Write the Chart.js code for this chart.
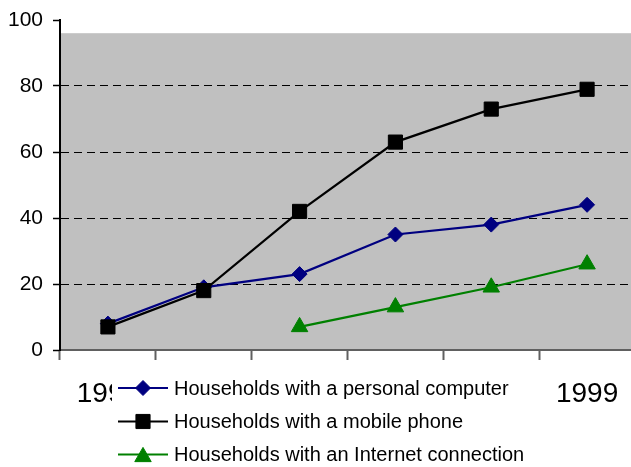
<!DOCTYPE html>
<html>
<head>
<meta charset="utf-8">
<script src="https://cdn.jsdelivr.net/npm/chart.js@4/dist/chart.umd.min.js"></script>
<style>
  html, body { margin: 0; padding: 0; background: #fff; overflow: hidden; }
  #wrap { width: 640px; height: 467px; }
</style>
</head>
<body>
<div id="wrap"><canvas id="c" width="640" height="467"></canvas></div>
<script>
// ---- data ----
const years = ["1994", "1995", "1996", "1997", "1998", "1999"];
const pcValues = [8, 19, 23, 35, 38, 44];
const mobileValues = [7, 18, 42, 63, 73, 79];
const internetValues = [null, null, 7, 13, 19, 26];
const seriesNames = [
  "Households with a personal computer",
  "Households with a mobile phone",
  "Households with an Internet connection"
];
const yTicks = [0, 20, 40, 60, 80, 100];

const FONT = "'Liberation Sans', Arial, sans-serif";
const plotTopValue = 96; // top of grey plot background

const bgPlugin = {
  id: 'plotBg',
  beforeDraw(chart) {
    const {ctx, chartArea} = chart;
    const y = chart.scales.y;
    const top = y.getPixelForValue(plotTopValue);
    ctx.save();
    ctx.fillStyle = '#c0c0c0';
    ctx.fillRect(chartArea.left, top, chartArea.right - chartArea.left + 20, chartArea.bottom - top);
    ctx.restore();
  }
};

function drawMarker(ctx, style, x, y, r, color) {
  ctx.save();
  ctx.fillStyle = color;
  ctx.strokeStyle = color;
  ctx.lineWidth = 1;
  ctx.beginPath();
  if (style === 'rectRot') {
    ctx.moveTo(x, y - r); ctx.lineTo(x + r, y); ctx.lineTo(x, y + r); ctx.lineTo(x - r, y);
  } else if (style === 'rect') {
    const s = r * Math.SQRT1_2;
    ctx.rect(x - s, y - s, 2 * s, 2 * s);
  } else {
    const half = r * Math.sqrt(3) / 2;
    const cy = y + r / 4;
    ctx.moveTo(x, cy - r); ctx.lineTo(x + half, cy + r / 2); ctx.lineTo(x - half, cy + r / 2);
  }
  ctx.closePath();
  ctx.fill();
  ctx.stroke();
  ctx.restore();
}

const legendPlugin = {
  id: 'overlayLegend',
  afterDraw(chart) {
    const {ctx} = chart;
    const boxLeft = 112, boxTop = 370, boxRight = 532, boxBottom = 467;
    ctx.save();
    ctx.fillStyle = '#fff';
    ctx.fillRect(boxLeft, boxTop, boxRight - boxLeft, boxBottom - boxTop);
    const rowY = [388, 421.5, 454.5];
    chart.data.datasets.forEach((ds, i) => {
      const y = rowY[i];
      ctx.strokeStyle = ds.borderColor;
      ctx.lineWidth = 2.2;
      ctx.beginPath();
      ctx.moveTo(118, y); ctx.lineTo(168, y);
      ctx.stroke();
      drawMarker(ctx, ds.pointStyle, 143, y, ds.pointRadius, ds.borderColor);
      ctx.fillStyle = '#000';
      ctx.font = '20px ' + FONT;
      ctx.textBaseline = 'middle';
      ctx.textAlign = 'left';
      ctx.fillText(ds.label, 174, y + 1);
    });
    ctx.restore();
  }
};

new Chart(document.getElementById('c'), {
  type: 'line',
  data: {
    labels: years,
    datasets: [
      {
        label: seriesNames[0], data: pcValues,
        borderColor: '#000080', backgroundColor: '#000080',
        borderWidth: 2.2, pointStyle: 'rectRot', pointRadius: 7.5, pointBorderWidth: 1,
        order: 2, tension: 0
      },
      {
        label: seriesNames[1], data: mobileValues,
        borderColor: '#000000', backgroundColor: '#000000',
        borderWidth: 2.2, pointStyle: 'rect', pointRadius: 10, pointBorderWidth: 1,
        order: 1, tension: 0
      },
      {
        label: seriesNames[2], data: internetValues,
        borderColor: '#008000', backgroundColor: '#008000',
        borderWidth: 2.2, pointStyle: 'triangle', pointRadius: 9.5, pointBorderWidth: 1,
        order: 0, tension: 0, spanGaps: false
      }
    ]
  },
  options: {
    responsive: false,
    animation: false,
    layout: { autoPadding: false, padding: { left: 0, right: 5, top: 20, bottom: 0 } },
    plugins: {
      legend: { display: false },
      tooltip: { enabled: false },
      title: { display: false }
    },
    scales: {
      x: {
        offset: true,
        grid: {
          offset: true, drawOnChartArea: false, drawTicks: true,
          tickLength: 10, tickColor: '#606060', tickWidth: 2
        },
        border: { display: true, color: '#606060', width: 2 },
        ticks: {
          color: '#000', font: { size: 28, family: FONT }, padding: 17,
          maxRotation: 0, autoSkip: false
        },
        afterFit(scale) { scale.height = 117; scale.paddingLeft = 0; scale.paddingRight = 0; }
      },
      y: {
        min: 0, max: 100,
        afterBuildTicks(scale) { scale.ticks = yTicks.map(v => ({ value: v })); },
        grid: {
          color: ctx => (ctx.tick && ctx.tick.value > 0 && ctx.tick.value < 100) ? '#000' : 'rgba(0,0,0,0)',
          tickColor: '#000', tickLength: 7, lineWidth: 1, tickWidth: 1.5
        },
        border: { display: true, color: '#000', width: 2, dash: [8, 5] },
        ticks: { color: '#000', font: { size: 21, family: FONT }, padding: 10 },
        afterFit(scale) { scale.width = 60; scale.paddingTop = 0; scale.paddingBottom = 0; }
      }
    }
  },
  plugins: [bgPlugin, legendPlugin]
});
</script>
</body>
</html>
